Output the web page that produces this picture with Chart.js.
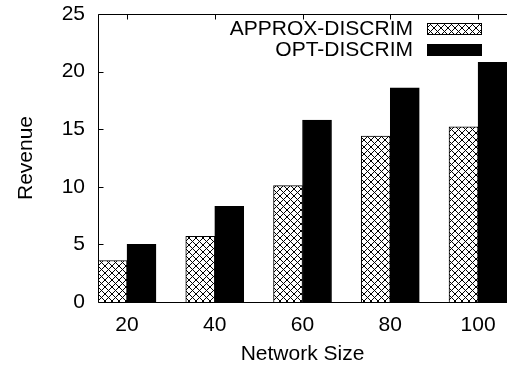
<!DOCTYPE html>
<html>
<head>
<meta charset="utf-8">
<script src="https://cdn.jsdelivr.net/npm/chart.js@4/dist/chart.umd.min.js"></script>
<style>
  html, body { margin: 0; padding: 0; background: #fff; }
  #wrap { width: 507px; height: 367px; }
</style>
</head>
<body>
<div id="wrap"><canvas id="chart" width="507" height="367"></canvas></div>
<script>
// network sizes on the x axis
const networkSizes = [20, 40, 60, 80, 100];
// revenue
const approxDiscrim = [3.6, 5.7, 10.1, 14.4, 15.2];
const optDiscrim = [5.0, 8.3, 15.8, 18.6, 20.8];
const seriesNames = ['APPROX-DISCRIM', 'OPT-DISCRIM'];
const yTicks = [0, 5, 10, 15, 20, 25];

const FONT = 'Liberation Sans, Arial, sans-serif';
const FSIZE = 21;

Chart.defaults.font.family = FONT;
Chart.defaults.font.size = FSIZE;
Chart.defaults.color = '#000';

// crosshatch fill like gnuplot's pattern
function makeHatch() {
    const c = document.createElement('canvas');
    c.width = 7;
    c.height = 7;
    const g = c.getContext('2d');
    g.fillStyle = '#fff';
    g.fillRect(0, 0, 7, 7);
    g.strokeStyle = '#000';
    g.lineWidth = 1;
    g.beginPath();
    g.moveTo(0, 0); g.lineTo(7, 7);
    g.moveTo(7, 0); g.lineTo(0, 7);
    g.stroke();
    return g.createPattern(c, 'repeat');
}
const hatch = makeHatch();

// frame, inward tick marks and the gnuplot style key
const framePlugin = {
    id: 'frame',
    afterDraw(chart) {
        const ctx = chart.ctx;
        const a = chart.chartArea;
        const xs = chart.scales.x;
        const ys = chart.scales.y;
        ctx.save();
        ctx.strokeStyle = '#000';
        ctx.lineWidth = 1;
        ctx.beginPath();
        const L = Math.round(a.left) + 0.5;
        const T = Math.round(a.top) + 0.5;
        const B = Math.round(a.bottom) + 0.5;
        const R = Math.round(a.right);
        ctx.moveTo(R, T); ctx.lineTo(L, T); ctx.lineTo(L, B); ctx.lineTo(R, B);
        yTicks.forEach(v => {
            const y = Math.round(ys.getPixelForValue(v)) + 0.5;
            ctx.moveTo(L, y); ctx.lineTo(L + 5, y);
        });
        networkSizes.forEach(v => {
            const x = Math.round(xs.getPixelForValue(v)) + 0.5;
            ctx.moveTo(x, T); ctx.lineTo(x, T + 5);
            ctx.moveTo(x, B); ctx.lineTo(x, B - 5);
        });
        ctx.stroke();

        // key
        ctx.font = FSIZE + 'px ' + FONT;
        ctx.textAlign = 'right';
        ctx.textBaseline = 'middle';
        const rows = [29, 50];
        chart.data.datasets.forEach((ds, i) => {
            const cy = rows[i];
            ctx.fillStyle = '#000';
            ctx.fillText(ds.label, 413, cy);
            ctx.fillStyle = ds.backgroundColor;
            ctx.fillRect(427, cy - 6, 55, 12);
            ctx.strokeStyle = '#000';
            ctx.strokeRect(427.5, cy - 5.5, 54, 11);
        });
        ctx.restore();
    }
};

const ctx = document.getElementById('chart').getContext('2d');
const myChart = new Chart(ctx, {
    type: 'bar',
    data: {
        datasets: [
            {
                label: seriesNames[0],
                data: networkSizes.map((n, i) => ({ x: n, y: approxDiscrim[i] })),
                backgroundColor: hatch,
                borderColor: '#000',
                borderWidth: 1,
                barThickness: 29
            },
            {
                label: seriesNames[1],
                data: networkSizes.map((n, i) => ({ x: n, y: optDiscrim[i] })),
                backgroundColor: '#000',
                borderColor: '#000',
                borderWidth: 1,
                barThickness: 29
            }
        ]
    },
    options: {
        responsive: false,
        animation: false,
        layout: { padding: { top: 14, right: 0, bottom: 0, left: 0 } },
        plugins: {
            legend: { display: false },
            tooltip: { enabled: false }
        },
        scales: {
            x: {
                type: 'linear',
                offset: false,
                min: 13.39,
                max: 106.6,
                grid: { display: false, drawTicks: false, offset: false },
                border: { display: false },
                ticks: { stepSize: 20, includeBounds: false, padding: 11, maxRotation: 0 },
                title: { display: true, text: 'Network Size', padding: { top: 0, bottom: 0 } },
                afterFit(scale) {
                    scale.height = 65;
                    scale.paddingLeft = 0;
                    scale.paddingRight = 0;
                }
            },
            y: {
                min: 0,
                max: 25,
                grid: { display: false, drawTicks: false },
                border: { display: false },
                ticks: { stepSize: 5, padding: 13 },
                title: { display: true, text: 'Revenue', padding: { top: 14, bottom: 0 } },
                afterFit(scale) {
                    scale.width = 98;
                    scale.paddingTop = 0;
                    scale.paddingBottom = 0;
                }
            }
        }
    },
    plugins: [framePlugin]
});
</script>
</body>
</html>
